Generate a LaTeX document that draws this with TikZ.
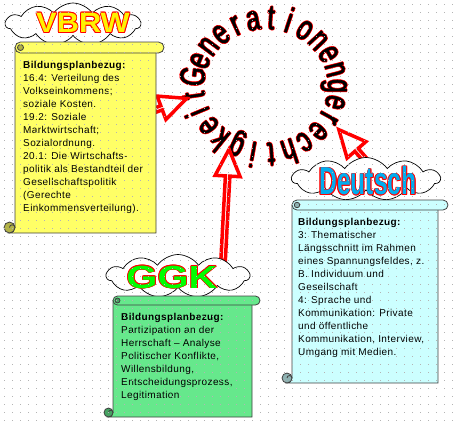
\documentclass[tikz,border=0pt]{standalone}
\usepackage{fontspec}
\usepackage{graphicx}
\setmainfont{Liberation Sans}
\newfontfamily\ringfont[FakeStretch=0.7, FakeBold=1.5]{Liberation Sans}
\newfontfamily\scrollfont[LetterSpace=4]{Liberation Sans}
\usetikzlibrary{calc, shapes.symbols, shapes.arrows}

\definecolor{scrollyellow}{RGB}{255,255,102}
\definecolor{scrollcyan}{RGB}{204,255,255}
\definecolor{scrollgreen}{RGB}{102,232,140}
\definecolor{griddot}{RGB}{180,180,180}

\newcommand{\ringstyle}{\fontsize{35}{35}\ringfont}
\newdimen\ringacc
\newdimen\ringgap
\newdimen\ringw

\tikzset{
  bubble/.style={cloud, cloud puffs=11, cloud puff arc=110, cloud ignores aspect, draw=black, fill=white, line width=0.7pt, inner sep=0pt},
  hollow arrow/.style={single arrow, draw=red, fill=white, line width=3.5pt, inner sep=0pt, minimum width=25pt, single arrow head extend=8pt, single arrow tip angle=50, anchor=tail},
  scrollline/.style={draw=black!75, line width=0.8pt},
  scrolltext/.style={anchor=north west, align=left, inner sep=0pt, font=\scrollfont\fontsize{10}{13}\selectfont},
  labeltext/.style={inner sep=0pt, font=\fontsize{#1}{#1}\selectfont\bfseries},
  ringchar/.style={inner sep=0pt, anchor=base, font=\ringstyle}
}

% name, from, to
\newcommand{\blockarrow}[3]{%
  \path let \p1=(#2), \p2=(#3), \n1={atan2(\y2-\y1,\x2-\x1)}, \n2={veclen(\x2-\x1,\y2-\y1)} in
    node[hollow arrow, minimum height=\n2, rotate=\n1] (#1) at (#2) {};}

% colour, left, top, right, roll end, bottom, roll radius
\newcommand{\drawscroll}[7]{%
  \filldraw[scrollline, fill=#1] (#2,-#3-#7) -- (#2,-#6+#7) arc[start angle=0, end angle=-90, radius=#7]
    -- (#4,-#6) -- (#4,-#3-#7) -- cycle;
  \filldraw[scrollline, fill=#1!70!black] (#2-#7,-#6+#7) circle[radius=#7];
  \draw[scrollline] (#2-#7,-#6+#7) arc[start angle=180, end angle=0, radius=#7*0.5];
  \filldraw[scrollline, fill=#1] (#2+#7,-#3) -- (#5-#7,-#3) arc[start angle=90, end angle=-90, radius=#7]
    -- (#2+#7,-#3-2*#7) arc[start angle=270, end angle=90, radius=#7] -- cycle;
  \filldraw[scrollline, fill=#1!70!black] (#2+#7,-#3-#7) circle[radius=#7*0.55];}

% name, position, colour, size, xscale, text
\newcommand{\cloudlabel}[6]{%
  \foreach \a in {0,45,...,315}
    \node[labeltext=#4, text=red, shift={(\a:0.9pt)}] (#1-\a) at (#2) {\scalebox{#5}[1]{#6}};
  \node[labeltext=#4, text=#3] (#1) at (#2) {\scalebox{#5}[1]{#6}};}

\begin{document}
\begin{tikzpicture}[x=1pt, y=1pt]
\useasboundingbox (0,0) rectangle (455,-424);

\coordinate (ring) at (266,-86);
\global\ringacc=0pt
\foreach \c in {G,e,n,e,r,a,t,i,o,n,e,n,g,e,r,e,c,h,t,i,g,k,e,i,t}
  {\setbox0=\hbox{\ringstyle\c}\global\advance\ringacc by \wd0}
\pgfmathsetlength{\ringgap}{(363.2 - \ringacc)/24}
\global\ringgap=\ringgap
\global\ringacc=0pt
\foreach \c [count=\i] in {G,e,n,e,r,a,t,i,o,n,e,n,g,e,r,e,c,h,t,i,g,k,e,i,t}{
  \setbox0=\hbox{\ringstyle\c}
  \global\ringw=\wd0
  \pgfmathsetmacro{\ringangle}{172 - (\ringacc + 0.5*\ringw)/60.5*57.2958}
  \foreach \a in {0,90,180,270}
    \node[ringchar, text=red, shift={(\a:0.7pt)}, rotate=\ringangle-90] (ringshade\i-\a) at ($(ring)+(\ringangle:62 and 57)$) {\c};
  \node[ringchar, rotate=\ringangle-90] (ringchar\i) at ($(ring)+(\ringangle:62 and 57)$) {\c};
  \global\advance\ringacc by \ringw
  \global\advance\ringacc by \ringgap
}

\coordinate (vbtail) at (153,-111);
\coordinate (vbtip) at (185,-99);
\coordinate (ggktail) at (223,-262);
\coordinate (ggktip) at (229,-151);
\coordinate (dtail) at (368,-163);
\coordinate (dtip) at (340,-131);
\blockarrow{vbarrow}{vbtail}{vbtip}
\blockarrow{ggkarrow}{ggktail}{ggktip}
\blockarrow{darrow}{dtail}{dtip}

\node[bubble, minimum width=135pt, minimum height=42pt] (vbrwcloud) at (73,-24) {};
\node[bubble, minimum width=143pt, minimum height=43pt] (ggkcloud) at (178,-276) {};
\node[bubble, minimum width=148pt, minimum height=43pt] (dcloud) at (366,-179) {};

\drawscroll{scrollyellow}{15}{42}{156}{164}{233}{5.5}
\drawscroll{scrollgreen}{113}{296}{252}{260}{417}{4.5}
\drawscroll{scrollcyan}{292}{200}{438}{448}{383}{5}

\cloudlabel{vbrw}{83,-23}{yellow}{28}{1.1}{VBRW}
\cloudlabel{ggk}{172,-277}{green}{32}{1.25}{GGK}
\cloudlabel{deutsch}{368,-181}{cyan}{39}{0.63}{Deutsch}

\node[scrolltext] (vbrwtext) at (23,-60.7) {\textbf{Bildungsplanbezug:}\\
16.4: Verteilung des\\ Volkseinkommens;\\ soziale Kosten.\\ 19.2: Soziale\\
Marktwirtschaft;\\ Sozialordnung.\\ 20.1: Die Wirtschafts-\\ politik als Bestandteil der\\
Gesellschaftspolitik\\ (Gerechte\\ Einkommensverteilung).};
\node[scrolltext] (ggktext) at (121,-312.7) {\textbf{Bildungsplanbezug:}\\
Partizipation an der\\ Herrschaft – Analyse\\ Politischer Konflikte,\\ Willensbildung,\\
Entscheidungsprozess,\\ Legitimation};
\node[scrolltext] (dtext) at (298,-217.7) {\textbf{Bildungsplanbezug:}\\
3: Thematischer\\ Längsschnitt im Rahmen\\ eines Spannungsfeldes, z.\\ B. Individuum und\\
Gesellschaft\\ 4: Sprache und\\ Kommunikation: Private\\ und öffentliche\\
Kommunikation, Interview,\\ Umgang mit Medien.};

\foreach \x in {4,12,...,452}
  \foreach \y in {4,12,...,420}
    \fill[griddot] (\x-0.5,-\y+0.5) rectangle ++(1,-1);
\end{tikzpicture}
\end{document}
